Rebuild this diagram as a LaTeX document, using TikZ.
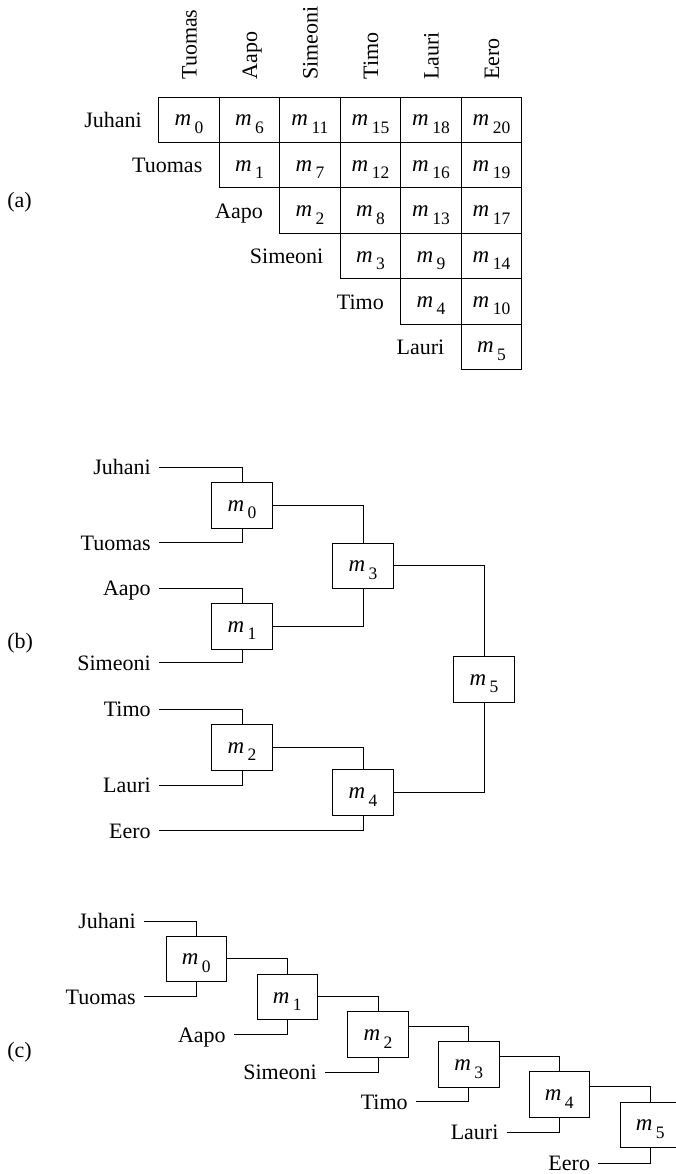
\documentclass[tikz,border=0pt]{standalone}
\usepackage{fontspec}
\setmainfont{Liberation Serif}
\newcommand{\msub}[1]{{\fontsize{23bp}{26bp}\selectfont\textit{m}}\hspace{3.5bp}\raisebox{-7.3bp}{\fontsize{17.5bp}{20bp}\selectfont #1}}
\begin{document}
\begin{tikzpicture}[x=1bp,y=-1bp,
  font=\fontsize{22bp}{26bp}\selectfont,
  line width=0.8bp,
  box/.style={draw, minimum width=60.5bp, minimum height=45.4bp, inner sep=0pt,
              text height=20.4bp, text depth=8bp},
  lab/.style={anchor=east, inner sep=0pt, outer sep=8.3bp, text height=14.6bp, text depth=0bp},
  rowlab/.style={anchor=base east, inner sep=0pt},
  collab/.style={anchor=base west, rotate=90, inner sep=0pt},
  partlab/.style={anchor=base west, inner sep=0pt}]
\useasboundingbox (0,0) rectangle (676,1174);

% ---------------- (a) ----------------
\node[partlab] (pa) at (7,207) {(a)};
\foreach \j/\n in {0/Tuomas,1/Aapo,2/Simeoni,3/Timo,4/Lauri,5/Eero}
  \node[collab] (col\j) at ({158.7+60.5*\j+30.25+7.7},80) {\n};
\foreach \i/\n in {0/Juhani,1/Tuomas,2/Aapo,3/Simeoni,4/Timo,5/Lauri}
  \node[rowlab] (row\i) at ({158.7+60.5*\i-16.5},{97+45.4*\i+30.5}) {\n};
\foreach \i/\j/\v in {0/0/0,0/1/6,0/2/11,0/3/15,0/4/18,0/5/20,
                      1/1/1,1/2/7,1/3/12,1/4/16,1/5/19,
                      2/2/2,2/3/8,2/4/13,2/5/17,
                      3/3/3,3/4/9,3/5/14,
                      4/4/4,4/5/10,
                      5/5/5}
  \node[box] (a\i\j) at ({158.7+60.5*\j+30.25},{97+45.4*\i+22.7}) {\msub{\v}};

% ---------------- (b) ----------------
\node[partlab] (pb) at (7,648) {(b)};
\node[box] (b0) at (242,505.2) {\msub{0}};
\node[box] (b1) at (242,626.2) {\msub{1}};
\node[box] (b2) at (242,747.2) {\msub{2}};
\node[box] (b3) at (363,565.7) {\msub{3}};
\node[box] (b4) at (363,792.5) {\msub{4}};
\node[box] (b5) at (484,679.2) {\msub{5}};
\node[lab] (bJu) at (159,467.3) {Juhani};
\node[lab] (bTu) at (159,542.7) {Tuomas};
\node[lab] (bAa) at (159,588.3) {Aapo};
\node[lab] (bSi) at (159,662.7) {Simeoni};
\node[lab] (bTi) at (159,709.3) {Timo};
\node[lab] (bLa) at (159,785) {Lauri};
\node[lab] (bEe) at (159,830.7) {Eero};
\draw (bJu.east) -| (b0.north);
\draw (bTu.east) -| (b0.south);
\draw (bAa.east) -| (b1.north);
\draw (bSi.east) -| (b1.south);
\draw (bTi.east) -| (b2.north);
\draw (bLa.east) -| (b2.south);
\draw (bEe.east) -| (b4.south);
\draw (b0.east) -| (b3.north);
\draw (b1.east) -| (b3.south);
\draw (b2.east) -| (b4.north);
\draw (b3.east) -| (b5.north);
\draw (b4.east) -| (b5.south);

% ---------------- (c) ----------------
\node[partlab] (pc) at (7,1057) {(c)};
\node[box] (c0) at (196.3,958.7) {\msub{0}};
\node[box] (c1) at (287.2,996.8) {\msub{1}};
\node[box] (c2) at (378,1034.5) {\msub{2}};
\node[box] (c3) at (468.8,1064.5) {\msub{3}};
\node[box] (c4) at (559.3,1094.5) {\msub{4}};
\node[box] (c5) at (650.3,1124.7) {\msub{5}};
\node[lab] (cJu) at (144,921) {Juhani};
\node[lab] (cTu) at (144,996.7) {Tuomas};
\node[lab] (cAa) at (234,1034.7) {Aapo};
\node[lab] (cSi) at (325,1072.3) {Simeoni};
\node[lab] (cTi) at (416,1101.7) {Timo};
\node[lab] (cLa) at (506.7,1132.3) {Lauri};
\node[lab] (cEe) at (598.3,1163.3) {Eero};
\draw (cJu.east) -| (c0.north);
\draw (cTu.east) -| (c0.south);
\draw (cAa.east) -| (c1.south);
\draw (cSi.east) -| (c2.south);
\draw (cTi.east) -| (c3.south);
\draw (cLa.east) -| (c4.south);
\draw (cEe.east) -| (c5.south);
\draw (c0.east) -| (c1.north);
\draw (c1.east) -| (c2.north);
\draw ([yshift=-15bp]c2.north east) -| (c3.north);
\draw ([yshift=-15bp]c3.north east) -| (c4.north);
\draw ([yshift=-15bp]c4.north east) -| (c5.north);
\end{tikzpicture}
\end{document}
